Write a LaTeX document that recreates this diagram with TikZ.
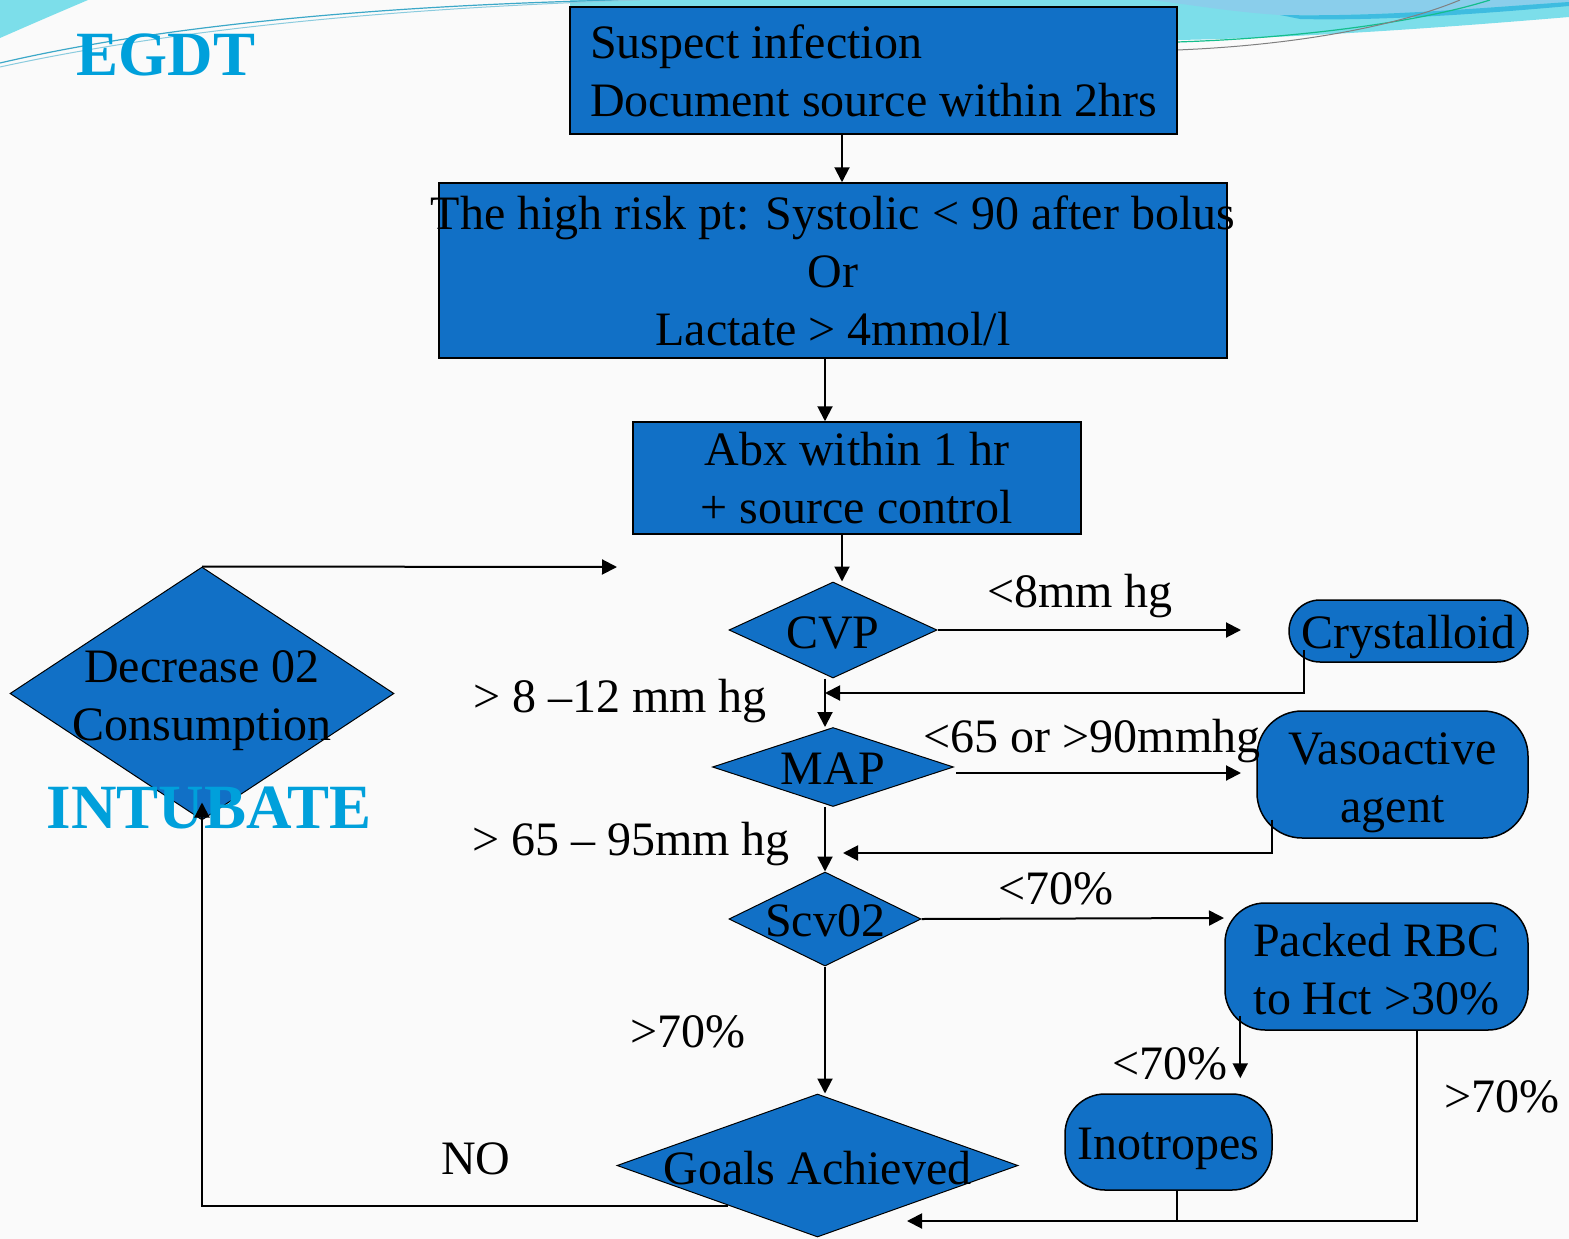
\documentclass[tikz,border=0pt]{standalone}
\usepackage{fontspec}
\setmainfont{Liberation Serif}
\usetikzlibrary{arrows.meta,positioning,calc,shapes.geometric}

\definecolor{boxblue}{RGB}{17,112,198}
\definecolor{titlecyan}{RGB}{0,160,219}
\definecolor{swcyan}{RGB}{124,222,234}
\definecolor{swblue}{RGB}{138,206,235}
\definecolor{swdeep}{RGB}{62,188,224}
\definecolor{swgreen}{RGB}{20,190,140}
\definecolor{swline}{RGB}{60,168,200}
\definecolor{paper}{RGB}{250,250,250}

\begin{document}
\begin{tikzpicture}[x=1pt, y=-1pt,
  % === Node styles ===
  stepbox/.style={
    draw=black, line width=1.5pt, fill=boxblue,
    align=center, font=\fontsize{48}{58}\selectfont, inner sep=0pt
  },
  decision/.style={
    diamond, draw=black, line width=1pt, fill=boxblue, inner sep=0pt
  },
  therapy/.style={
    draw=black, line width=1.5pt, fill=boxblue, inner sep=0pt
  },
  % === Arrow styles ===
  arr/.style={-{Triangle[length=15pt,width=15pt]}, line width=2pt},
  link/.style={line width=1.5pt},
  % === Label styles ===
  lbl/.style={font=\fontsize{48}{58}\selectfont, align=center, inner sep=0pt},
  title/.style={font=\fontsize{63}{70}\selectfont\bfseries, text=titlecyan, inner sep=0pt},
]

% =============================================
% Slide background and swooshes
% =============================================
\useasboundingbox (0,0) rectangle (1569,1239);
\fill[paper] (0,0) rectangle (1569,1239);
\fill[swcyan] (0,0) -- (88,0) .. controls (55,14) and (25,27) .. (0,38) -- cycle;
\fill[swcyan] (570,0) -- (1569,0) -- (1569,17) .. controls (1450,27) and (1300,38) .. (1177,40) -- (1177,7) -- (570,7) -- cycle;
\fill[swblue] (1150,0) -- (1569,0) -- (1569,2) .. controls (1480,8) and (1380,17) .. (1280,15) .. controls (1230,12) and (1180,3) .. (1150,0) -- cycle;
\fill[swdeep] (1280,15) .. controls (1380,17) and (1480,8) .. (1569,2) -- (1569,6) .. controls (1480,14) and (1380,21) .. (1300,19) -- cycle;
\draw[swline, line width=1.2pt] (0,63) .. controls (150,28) and (360,6) .. (620,0);
\draw[swline!60, line width=1pt] (0,67) .. controls (160,32) and (370,9) .. (640,0);
\draw[swgreen, line width=1.2pt] (1177,42) .. controls (1300,38) and (1420,22) .. (1490,0);
\draw[gray, line width=1pt] (1177,50) .. controls (1300,45) and (1400,25) .. (1460,0);

% =============================================
% Main column: boxes and decisions
% =============================================
\node[stepbox, minimum width=607pt, minimum height=127pt, align=left] (infect) at (873.5,70.5)
  {Suspect infection\\Document source within 2hrs};
\node[stepbox, minimum width=784pt, minimum height=175pt, inner xsep=-8pt] (risk) at (833,270.5)
  {The high risk pt: Systolic < 90 after bolus\\Or\\Lactate > 4mmol/l};
\node[stepbox, minimum width=448pt, minimum height=112pt] (abx) at (857,478)
  {Abx within 1 hr\\+ source control};

\node[decision, minimum width=208pt, minimum height=96pt, label={[lbl,yshift=-3pt]center:CVP}] (cvp) at (833,630) {};
\node[decision, minimum width=241pt, minimum height=79pt, label={[lbl,yshift=-2pt]center:MAP}] (map) at (833,767) {};
\node[decision, minimum width=192pt, minimum height=94pt, label={[lbl,yshift=-2pt]center:Scv02}] (scv) at (825,919) {};
\node[decision, minimum width=401pt, minimum height=143pt, label={[lbl,yshift=-3pt]center:Goals Achieved}] (goals) at (817.5,1165.5) {};
\node[decision, minimum width=384pt, minimum height=253pt, label={[lbl,yshift=-7pt]center:Decrease 02\\Consumption}] (dec) at (202,693.5) {};

% =============================================
% Right column: therapies
% =============================================
\node[therapy, rounded corners=31pt, minimum width=239pt, minimum height=62pt,
      label={[lbl,yshift=-6pt]center:Crystalloid}] (cryst) at (1408.5,631) {};
\node[therapy, rounded corners=45pt, minimum width=271pt, minimum height=127pt,
      label={[lbl,yshift=-8pt]center:Vasoactive\\agent}] (vaso) at (1392.5,774.5) {};
\node[therapy, rounded corners=40pt, minimum width=303pt, minimum height=127pt,
      label={[lbl,yshift=-3pt]center:Packed RBC\\to Hct >30\%}] (prbc) at (1376.5,966.5) {};
\node[therapy, rounded corners=40pt, minimum width=207pt, minimum height=96pt,
      label={[lbl,yshift=-7pt]center:Inotropes}] (inot) at (1168.5,1142) {};

% Titles
\node[title] (egdt) at (166,55) {EGDT};
\node[title] (intub) at (209,808) {INTUBATE};

% =============================================
% Arrows
% =============================================
\coordinate (cvpend) at (1241,630);
\coordinate (cvpjoin) at (825,693);
\coordinate (mapend) at (1241,773);
\coordinate (mapjoin) at (843,853);
\coordinate (scvend) at (1224,918);
\coordinate (goalsin) at (907,1221);
\coordinate (loopend) at (617,567);

\draw[arr] ([xshift=-31.5pt]infect.south) -- ([xshift=-31.5pt]infect.south |- risk.north);
\draw[arr] ([xshift=-8pt]risk.south) -- ([xshift=-8pt]risk.south |- abx.north);
\draw[arr] ([xshift=-15pt]abx.south) -- ([xshift=-15pt]abx.south |- cvp.north);

\draw[arr] (cvp.east) -- (cvpend);
\draw[arr] ([xshift=16pt,yshift=-19pt]cryst.west) |- (cvpjoin);
\draw[arr] ([xshift=-8pt]cvp.south) -- ([xshift=-8pt]cvp.south |- map.north);

\draw[arr] ([xshift=2pt,yshift=-6pt]map.east) -- (mapend);
\draw[arr] ([xshift=16pt,yshift=-45pt]vaso.west) |- (mapjoin);
\draw[arr] ([xshift=-8pt]map.south) -- (scv.north);

\draw[arr] (scv.east) -- (scvend);
\draw[arr] ([xshift=16pt,yshift=15pt]prbc.south west) -- ([xshift=16pt,yshift=15pt]prbc.south west |- inot.north);
\draw[arr] ([xshift=40.5pt]prbc.south) |- (goalsin);
\draw[link] ([xshift=8.5pt]inot.south) -- ([xshift=8.5pt]inot.south |- goalsin);
\draw[arr] (scv.south) -- (scv.south |- goals.north);

% loop back when goals are not met
\draw[arr] ([xshift=11pt,yshift=-4pt]goals.south west) -| ([yshift=18pt]dec.south);
\draw[arr] (dec.north) -- (loopend);

% Arrow labels
\node[lbl] (l1) at (1080,596) {<8mm hg};
\node[lbl] (l2) at (620,701) {> 8 –12 mm hg};
\node[lbl] (l3) at (1092,741) {<65 or >90mmhg};
\node[lbl] (l4) at (631,844) {> 65 – 95mm hg};
\node[lbl] (l5) at (1056,889) {<70\%};
\node[lbl] (l6) at (1170,1064) {<70\%};
\node[lbl] (l7) at (1502,1097) {>70\%};
\node[lbl] (l8) at (688,1032) {>70\%};
\node[lbl] (l9) at (476,1159) {NO};

\end{tikzpicture}
\end{document}
